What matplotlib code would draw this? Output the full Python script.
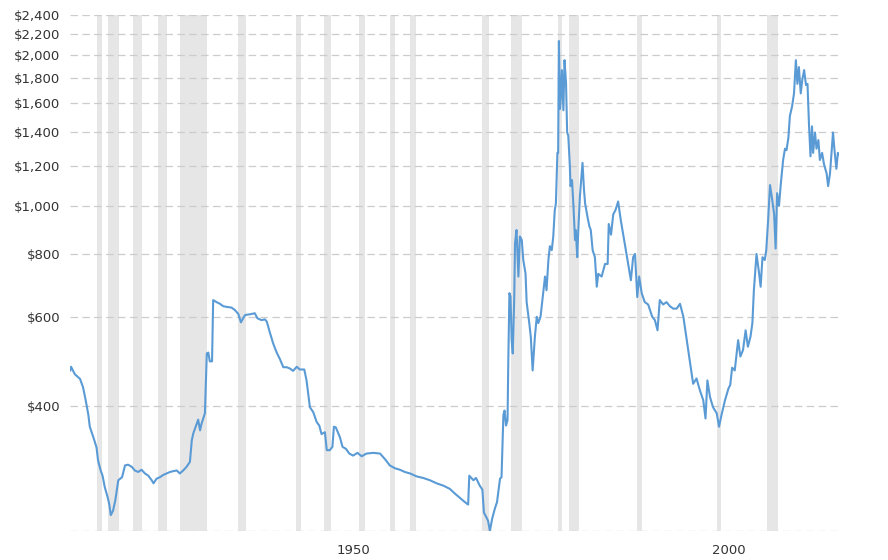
import matplotlib
matplotlib.use("Agg")
import matplotlib.pyplot as plt
from matplotlib.ticker import FuncFormatter

# inflation adjusted gold price (decimal year, USD/oz)
years = [
    1915.0, 1915.1, 1915.6, 1916.3, 1916.7, 1917.05, 1917.4, 1917.6, 1918.1, 1918.5,
    1918.7, 1919.05, 1919.3, 1919.6, 1920.0, 1920.2, 1920.4, 1920.7, 1921.0, 1921.2,
    1921.4, 1921.9, 1922.3, 1922.7, 1923.2, 1923.6, 1924.05, 1924.5, 1924.95, 1925.4,
    1925.85, 1926.1, 1926.5, 1926.95, 1927.4, 1927.85, 1928.3, 1928.7, 1929.2, 1929.6,
    1930.05, 1930.5, 1930.95, 1931.2, 1931.4, 1931.85, 1932.05, 1932.3, 1932.5, 1932.95,
    1933.2, 1933.4, 1933.6, 1933.9, 1934.05, 1934.5, 1934.95, 1935.4, 1935.85, 1936.5,
    1936.95, 1937.4, 1937.75, 1938.3, 1938.95, 1939.6, 1939.95, 1940.5, 1940.95, 1941.2,
    1941.6, 1942.05, 1942.5, 1942.95, 1943.4, 1943.85, 1944.3, 1944.7, 1945.2, 1945.6,
    1946.2, 1946.5, 1946.95, 1947.4, 1947.85, 1948.2, 1948.5, 1948.95, 1949.2, 1949.6,
    1949.95, 1950.15, 1950.4, 1950.95, 1951.3, 1951.75, 1952.2, 1952.7, 1953.3, 1953.85,
    1954.5, 1955.4, 1956.3, 1956.95, 1957.6, 1958.3, 1958.95, 1959.6, 1960.3, 1961.2,
    1962.05, 1962.95, 1963.85, 1964.75, 1965.6, 1966.3, 1966.95, 1967.6, 1968.05, 1968.2,
    1968.75, 1969.1, 1969.6, 1969.95, 1970.15, 1970.7, 1970.95, 1971.25, 1971.6, 1971.9,
    1972.3, 1972.5, 1972.75, 1972.9, 1973.1, 1973.3, 1973.4, 1973.55, 1973.7, 1973.85,
    1974.0, 1974.2, 1974.3, 1974.5, 1974.75, 1974.95, 1975.2, 1975.4, 1975.7, 1975.85,
    1976.2, 1976.4, 1976.65, 1976.95, 1977.2, 1977.4, 1977.7, 1978.0, 1978.3, 1978.5,
    1978.75, 1978.95, 1979.2, 1979.4, 1979.6, 1979.75, 1979.95, 1980.05, 1980.15, 1980.3,
    1980.4, 1980.55, 1980.75, 1980.9, 1981.1, 1981.25, 1981.4, 1981.6, 1981.7, 1981.9,
    1982.1, 1982.3, 1982.4, 1982.6, 1982.7, 1982.95, 1983.2, 1983.3, 1983.5, 1983.65,
    1983.95, 1984.2, 1984.4, 1984.65, 1984.95, 1985.2, 1985.4, 1985.85, 1986.3, 1986.65,
    1986.8, 1987.1, 1987.4, 1987.7, 1988.05, 1988.4, 1988.85, 1989.3, 1989.75, 1990.05,
    1990.3, 1990.6, 1990.85, 1991.2, 1991.6, 1992.05, 1992.6, 1992.95, 1993.3, 1993.6,
    1994.05, 1994.5, 1994.95, 1995.4, 1995.85, 1996.3, 1996.75, 1997.2, 1997.6, 1998.05,
    1998.5, 1998.95, 1999.4, 1999.7, 1999.95, 2000.3, 2000.7, 2001.2, 2001.5, 2001.85,
    2002.3, 2002.75, 2003.0, 2003.25, 2003.6, 2004.05, 2004.35, 2004.7, 2005.05, 2005.35,
    2005.7, 2005.95, 2006.15, 2006.5, 2006.85, 2007.05, 2007.3, 2007.6, 2007.8, 2008.05,
    2008.3, 2008.6, 2008.85, 2009.05, 2009.25, 2009.5, 2009.75, 2010.05, 2010.3, 2010.5,
    2010.75, 2010.95, 2011.25, 2011.5, 2011.75, 2011.95, 2012.15, 2012.4, 2012.6, 2012.85,
    2013.1, 2013.3, 2013.5, 2013.7, 2013.9, 2014.05, 2014.3, 2014.5, 2014.75, 2014.95,
    2015.25, 2015.5, 2015.85, 2016.05, 2016.3, 2016.5, 2016.7, 2016.9, 2017.15, 2017.35,
    2017.5,
]
prices = [
    470, 478, 462, 452, 435, 410, 384, 363, 345, 330,
    311, 297, 290, 275, 262, 254, 242, 247, 259, 271,
    284, 288, 304, 305, 302, 297, 295, 298, 293, 290,
    284, 280, 286, 288, 291, 293, 295, 296, 297, 293,
    297, 302, 309, 341, 352, 368, 375, 357, 368, 386,
    508, 510, 490, 490, 649, 643, 638, 631, 629, 627,
    620, 609, 586, 606, 608, 611, 597, 592, 594, 588,
    560, 532, 511, 495, 477, 477, 474, 469, 478, 472,
    472, 449, 397, 388, 371, 365, 351, 354, 326, 326,
    331, 363, 362, 346, 331, 328, 321, 318, 322, 317,
    321, 322, 321, 313, 304, 300, 298, 295, 293, 289,
    287, 284, 280, 277, 273, 267, 262, 257, 254, 290,
    284, 287, 277, 272, 245, 236, 225, 238, 249, 257,
    286, 288, 383, 391, 365, 374, 485, 670, 660, 540,
    508, 660, 842, 895, 723, 869, 855, 780, 733, 643,
    584, 549, 470, 549, 601, 584, 601, 660, 723, 679,
    780, 831, 816, 869, 981, 1010, 1275, 1275, 2130, 1560,
    1640, 1864, 1550, 1951, 1760, 1400, 1380, 1210, 1095, 1125,
    993, 855, 895, 790, 869, 1043, 1160, 1218, 1075, 1010,
    953, 912, 895, 816, 790, 690, 732, 723, 766, 766,
    920, 876, 962, 981, 1020, 937, 855, 780, 711, 790,
    802, 658, 723, 669, 643, 636, 601, 592, 565, 649,
    636, 643, 631, 624, 624, 638, 601, 540, 492, 442,
    453, 429, 410, 377, 449, 416, 397, 386, 363, 384,
    410, 432, 440, 476, 470, 540, 501, 516, 565, 524,
    549, 584, 679, 802, 733, 690, 790, 780, 816, 937,
    1100, 1027, 962, 822, 1060, 1000, 1110, 1234, 1300, 1291,
    1366, 1510, 1580, 1675, 1951, 1750, 1890, 1675, 1781, 1864,
    1740, 1750, 1450, 1255, 1440, 1275, 1400, 1300, 1352, 1234,
    1275, 1210, 1160, 1095, 1160, 1275, 1400, 1291, 1185, 1275,
    1265,
]

# US recessions (start, end) as decimal years
rec_start = [1918.58, 1920.0, 1923.33, 1926.75, 1929.58, 1937.33, 1945.08, 1948.83,
             1953.5, 1957.58, 1960.25, 1969.92, 1973.83, 1980.0, 1981.5, 1990.5,
             2001.17, 2007.92]
rec_end = [1919.17, 1921.5, 1924.5, 1927.83, 1933.17, 1938.42, 1945.75, 1949.75,
           1954.33, 1958.25, 1961.08, 1970.83, 1975.17, 1980.5, 1982.83, 1991.17,
           2001.83, 2009.42]

y_ticks = [400, 600, 800, 1000, 1200, 1400, 1600, 1800, 2000, 2200, 2400]
x_labels = ["1950", "2000"]

fig = plt.figure(figsize=(8.88, 5.6), dpi=100)
ax = fig.add_axes([70.3 / 888, 1 - 531 / 560, 768.7 / 888, 516 / 560])

for s, e in zip(rec_start, rec_end):
    ax.axvspan(s, e, color="#e6e6e6", lw=0, zorder=0)

ax.plot(years, prices, color="#5b9bd5", lw=1.5, zorder=3)

ax.set_yscale("log")
ymin = 225
ax.set_ylim(ymin, 2400)
ax.set_xlim(1915, 2017.5)

ax.set_yticks([ymin] + y_ticks)
ax.yaxis.set_major_formatter(FuncFormatter(
    lambda v, p: "" if v < 300 else "${:,.0f}".format(v)))
ax.yaxis.set_minor_locator(plt.NullLocator())

# the reference places its year labels a little right of the year itself
lab_shift = 2.8
ax.set_xticks([int(t) + lab_shift for t in x_labels])
ax.set_xticklabels(x_labels)

ax.grid(axis="y", color="#cccccc", ls=(0, (6, 3.5)), lw=0.9, zorder=1)
ax.set_axisbelow(True)
for sp in ax.spines.values():
    sp.set_visible(False)
ax.tick_params(length=0, labelsize=9.5, colors="#333333")
ax.tick_params(axis="y", pad=7)
ax.tick_params(axis="x", pad=9)

fig.savefig("out.png", dpi=100)
